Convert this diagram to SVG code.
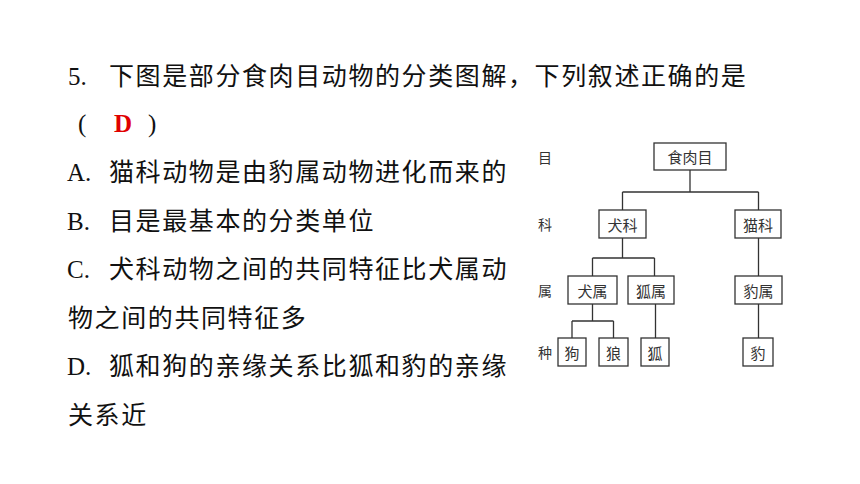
<svg xmlns="http://www.w3.org/2000/svg" width="860" height="484" viewBox="0 0 860 484">
<style>
.q{font-family:"Noto Sans CJK SC","Noto Sans",sans-serif;font-size:25px;fill:#111;letter-spacing:1.6px}
.l{font-family:"Liberation Serif",serif;font-size:25px;fill:#111}
.ans{font-family:"Liberation Serif",serif;font-size:25px;fill:#e00000;font-weight:bold}
.box{fill:#fff;stroke:#333;stroke-width:1.3}
.t{font-family:"Noto Sans CJK SC",sans-serif;font-size:15px;fill:#333;text-anchor:middle;dominant-baseline:central}
.lv{font-family:"Noto Sans CJK SC",sans-serif;font-size:14px;fill:#333;text-anchor:middle;dominant-baseline:central}
.c{fill:none;stroke:#333;stroke-width:1.3}
</style>
<rect width="860" height="484" fill="#fff"/>
<g id="question">
<text class="l" x="68" y="84.5">5.</text>
<text class="q" x="109" y="84.5">下图是部分食肉目动物的分类图解，下列叙述正确的是</text>
<text class="l" x="78" y="132">(</text>
<text class="ans" x="114" y="132">D</text>
<text class="l" x="148" y="132">)</text>
<text class="l" x="67" y="181">A.</text>
<text class="q" x="109" y="181">猫科动物是由豹属动物进化而来的</text>
<text class="l" x="67" y="229.5">B.</text>
<text class="q" x="109" y="229.5">目是最基本的分类单位</text>
<text class="l" x="67" y="278">C.</text>
<text class="q" x="109" y="278">犬科动物之间的共同特征比犬属动</text>
<text class="q" x="68" y="326.5">物之间的共同特征多</text>
<text class="l" x="67" y="375">D.</text>
<text class="q" x="109" y="375">狐和狗的亲缘关系比狐和豹的亲缘</text>
<text class="q" x="68" y="423.5">关系近</text>
</g>
<g id="levels">
<text class="lv" x="545" y="156.5">目</text>
<text class="lv" x="545" y="224">科</text>
<text class="lv" x="545" y="290">属</text>
<text class="lv" x="545" y="352">种</text>
</g>
<g id="connectors">
<path class="c" d="M690 170V192M622.5 192H758.5M622.5 192V210M758.5 192V210"/>
<path class="c" d="M622.5 238V258M592.5 258H654.5M592.5 258V276M654.5 258V276"/>
<path class="c" d="M758.5 238V276"/>
<path class="c" d="M592.5 304V321M572 321H613.5M572 321V338M613.5 321V338"/>
<path class="c" d="M655.5 304V338"/>
<path class="c" d="M758.5 304V338"/>
</g>
<g id="n_order"><rect class="box" x="654" y="143" width="72" height="27"/><text class="t" x="690" y="156.5">食肉目</text></g>
<g id="n_quanke"><rect class="box" x="599" y="210" width="47" height="28"/><text class="t" x="622.5" y="224">犬科</text></g>
<g id="n_maoke"><rect class="box" x="735" y="210" width="46" height="28"/><text class="t" x="758" y="224">猫科</text></g>
<g id="n_quanshu"><rect class="box" x="568" y="276" width="49" height="28"/><text class="t" x="592.5" y="290">犬属</text></g>
<g id="n_hushu"><rect class="box" x="628" y="276" width="46" height="28"/><text class="t" x="651" y="290">狐属</text></g>
<g id="n_baoshu"><rect class="box" x="735" y="276" width="47" height="28"/><text class="t" x="758.5" y="290">豹属</text></g>
<g id="n_gou"><rect class="box" x="558" y="338" width="28" height="28"/><text class="t" x="572" y="352">狗</text></g>
<g id="n_lang"><rect class="box" x="599" y="338" width="29" height="28"/><text class="t" x="613.5" y="352">狼</text></g>
<g id="n_hu"><rect class="box" x="641" y="338" width="28" height="28"/><text class="t" x="655" y="352">狐</text></g>
<g id="n_bao"><rect class="box" x="743" y="338" width="30" height="28"/><text class="t" x="758" y="352">豹</text></g>
</svg>
